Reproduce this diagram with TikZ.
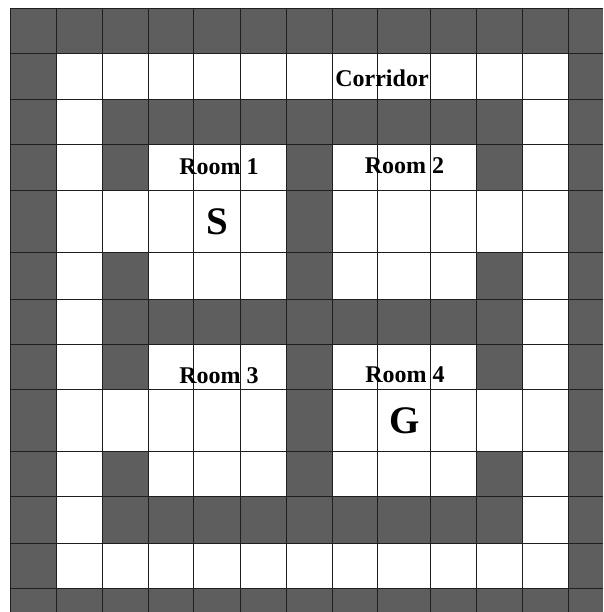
\documentclass[tikz,border=0pt]{standalone}
\usepackage{fontspec}
\setmainfont{Liberation Serif}
\usepackage{tikz}

\begin{document}
\begin{tikzpicture}[
        x=1pt, y=-1pt,
        wall/.style={fill=black!63},
        gridline/.style={draw=black!88, line width=1pt},
        lab/.style={inner sep=0pt, font=\fontsize{24}{24}\selectfont\bfseries},
        mark letter/.style={inner sep=0pt, font=\fontsize{39}{39}\selectfont\bfseries}
    ]
        \useasboundingbox (0,0) rectangle (603,612);
        % outer walls
        \fill[wall] (10.7,8.3) rectangle (603,53.3);
        \fill[wall] (10.7,588.3) rectangle (603,612);
        \fill[wall] (10.7,8.3) rectangle (56,612);
        \fill[wall] (568,8.3) rectangle (603,612);
        % horizontal walls
        \foreach \ya/\yb in {100/145, 299/344, 496.7/543.3}
            \fill[wall] (102.3,\ya) rectangle (522,\yb);
        % door walls left and right of the rooms
        \foreach \ya/\yb in {145/190.7, 252.3/299, 344/389.3, 451.7/496.7} {
            \fill[wall] (102.3,\ya) rectangle (148,\yb);
            \fill[wall] (476,\ya) rectangle (522,\yb);
        }
        % middle wall
        \fill[wall] (286,145) rectangle (332,496.7);
        % grid
        \foreach \x in {10.7,56,102.3,148,193.3,240,286,332,377.3,430.7,476,522,568}
            \draw[gridline] (\x,8.3) -- (\x,612);
        \foreach \y in {8.3,53.3,100,145,190.7,252.3,299,344,389.3,451.7,496.7,543.3,588.3}
            \draw[gridline] (10.7,\y) -- (603,\y);
        % labels
        \node[lab] (corridor) at (382,78) {Corridor};
        \node[lab] (room1) at (219,167) {Room 1};
        \node[lab] (room2) at (404.5,166) {Room 2};
        \node[lab] (room3) at (219,376) {Room 3};
        \node[lab] (room4) at (405,375) {Room 4};
        \node[mark letter] (start) at (217,222) {S};
        \node[mark letter] (goal) at (404.7,421) {G};
    \end{tikzpicture}
\end{document}
